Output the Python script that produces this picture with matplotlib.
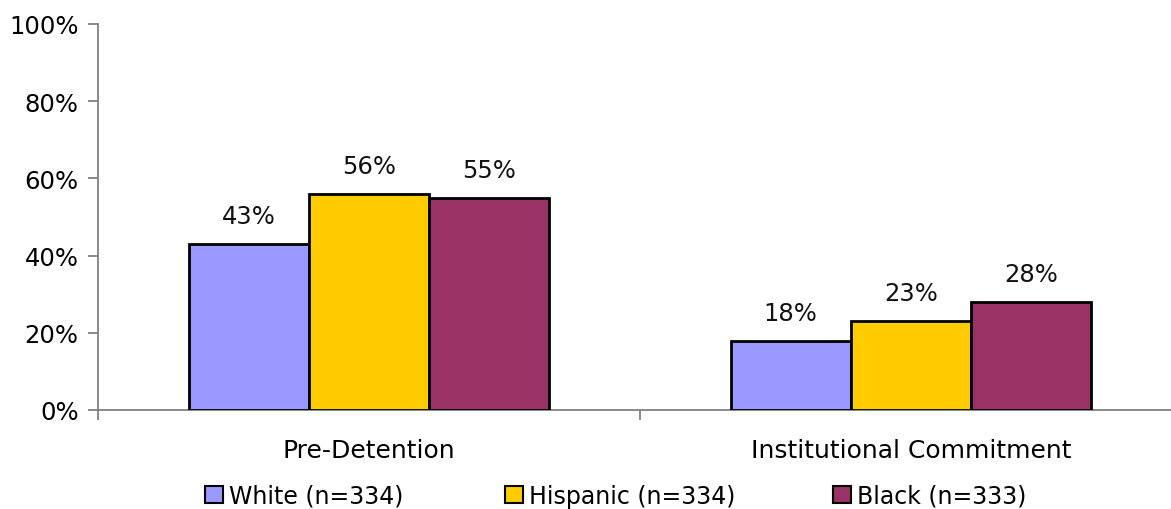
import matplotlib.pyplot as plt
import numpy as np
from matplotlib.patches import Patch

categories = ["Pre-Detention", "Institutional Commitment"]
groups = ["White (n=334)", "Hispanic (n=334)", "Black (n=333)"]
white = [43, 18]
hispanic = [56, 23]
black = [55, 28]

colors = ["#9999FF", "#FFCC00", "#993366"]
plt.rcParams["font.family"] = ["DejaVu Sans"]

fig = plt.figure(figsize=(11.71, 5.10), dpi=100)
ax = fig.add_axes([98 / 1171, 99 / 510, (1182 - 98) / 1171, (411 - 25) / 510])

x = np.arange(len(categories))
w = 0.222
for i, (vals, col) in enumerate(zip([white, hispanic, black], colors)):
    bars = ax.bar(x + (i - 1) * w, vals, w, color=col, edgecolor="black",
                  linewidth=2, zorder=3)
    for b, v in zip(bars, vals):
        ax.annotate(f"{v}%", (b.get_x() + b.get_width() / 2, v),
                    xytext=(0, 11.5), textcoords="offset points",
                    ha="center", va="bottom", fontsize=17.5, color="#111")

ax.set_xlim(-0.5, 1.5)
ax.set_ylim(0, 100)
ax.set_yticks(np.arange(0, 101, 20))
ax.set_yticklabels([f"{t}%" for t in range(0, 101, 20)], fontsize=17.5)
ax.set_xticks([-0.5, 0.5, 1.5])
ax.set_xticklabels([])
ax.set_xticks(x, minor=True)
ax.set_xticklabels(categories, minor=True, fontsize=18)
ax.tick_params(axis="x", which="minor", length=0, pad=20)
ax.tick_params(axis="x", which="major", length=7, color="#808080", width=1.3)
ax.tick_params(axis="y", length=7, color="#808080", width=1.3, pad=7)

for s in ["top", "right"]:
    ax.spines[s].set_visible(False)
for s in ["left", "bottom"]:
    ax.spines[s].set_color("#808080")
    ax.spines[s].set_linewidth(1.3)

# Excel spaces the legend entries evenly, so place each entry on its own
legend_x = [205, 505, 833]
for lbl, col, lx in zip(groups, colors, legend_x):
    h = Patch(facecolor=col, edgecolor="black", linewidth=1.5)
    fig.legend([h], [lbl], loc="center left", bbox_to_anchor=(lx / 1171, 13 / 510),
               frameon=False, fontsize=17, handlelength=0.75, handleheight=0.75,
               handletextpad=0.25, borderpad=0, borderaxespad=0)

fig.savefig("out.png", dpi=100)
